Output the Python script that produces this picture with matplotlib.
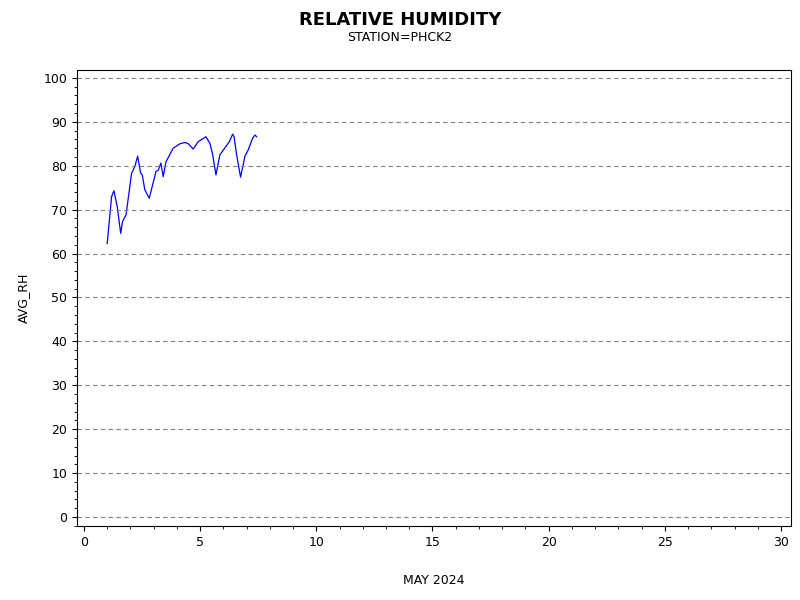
import matplotlib
matplotlib.use("Agg")
import matplotlib.pyplot as plt
from matplotlib.ticker import MultipleLocator

day = [1.0,1.19,1.29,1.43,1.58,1.66,1.81,2.05,2.19,2.31,2.44,2.51,2.62,2.81,3.10,3.20,3.31,3.41,3.53,3.84,4.13,4.35,4.49,4.70,4.92,5.25,5.42,5.54,5.68,5.85,6.03,6.26,6.40,6.46,6.57,6.74,6.93,7.07,7.26,7.36,7.43]
rh = [62.3,73.0,74.3,70.7,64.6,67.3,68.8,78.3,79.8,82.2,78.3,77.9,74.5,72.6,78.7,79.0,80.6,77.5,80.9,84.0,85.0,85.3,85.0,83.8,85.5,86.6,85.1,82.5,77.9,82.5,83.8,85.5,87.2,86.6,82.5,77.4,82.2,83.6,86.3,87.0,86.6]
xticks = [0,5,10,15,20,25,30]
yticks = [0,10,20,30,40,50,60,70,80,90,100]

fig = plt.figure(figsize=(8,6), dpi=100)
ax = fig.add_axes([77/800, 1-526/600, (791-77)/800, (526-70)/600])
ax.plot(day, rh, color="blue", lw=0.9)
ax.set_xlim(-0.3, 30.43)
ax.set_ylim(-2.05, 101.8)
ax.set_xticks(xticks); ax.set_yticks(yticks)
ax.xaxis.set_minor_locator(MultipleLocator(1))
ax.yaxis.set_minor_locator(MultipleLocator(2))
for y in yticks:
    ax.axhline(y, color="gray", ls=(0,(4,3)), lw=0.8)
ax.tick_params(labelsize=9)
ax.set_xlabel("MAY 2024", fontsize=9, labelpad=18)
ax.set_ylabel("AVG_RH", fontsize=9, labelpad=10)
fig.text(0.5, 0.982, "RELATIVE HUMIDITY", ha="center", va="top", fontsize=13, fontweight="bold")
fig.text(0.5, 0.948, "STATION=PHCK2", ha="center", va="top", fontsize=9)
fig.savefig("out.png")
